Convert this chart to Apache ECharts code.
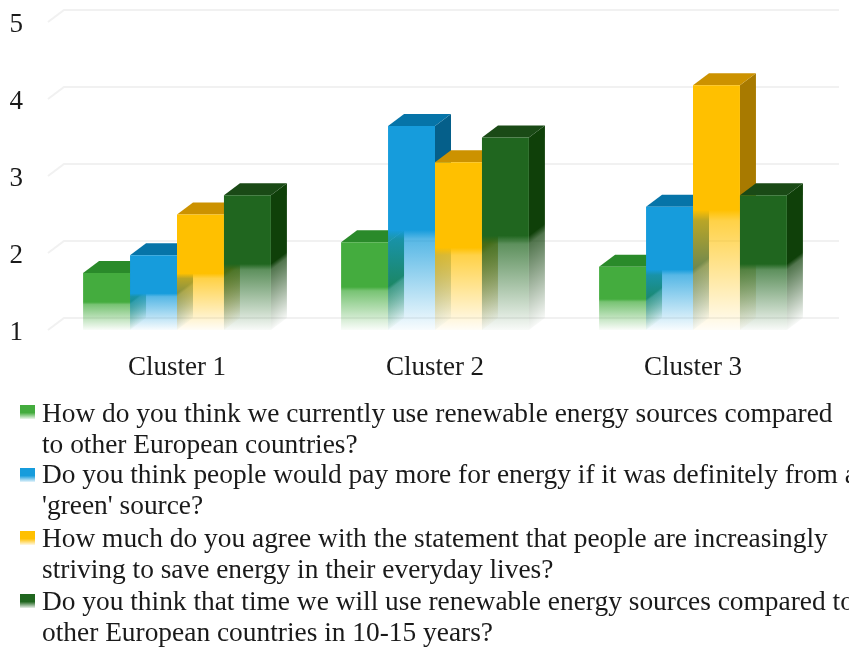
<!DOCTYPE html>
<html>
<head>
<meta charset="utf-8">
<title>Clusters</title>
<style>
  html, body { margin: 0; padding: 0; background: #fff; }
  #chart { width: 849px; height: 650px; }
</style>
</head>
<body>
<div id="chart"></div>
<script src="https://cdn.jsdelivr.net/npm/echarts@6/dist/echarts.min.js"></script>
<script>
const categories = ['Cluster 1', 'Cluster 2', 'Cluster 3']
const tickValues = [1, 2, 3, 4, 5]

const useNow = [1.74, 2.14, 1.82]
const payMore = [1.97, 3.65, 2.6]
const saveEnergy = [2.5, 3.18, 4.18]
const useFuture = [2.75, 3.5, 2.75]

const legendNames = [
  'How do you think we currently use renewable energy sources compared\nto other European countries?',
  "Do you think people would pay more for energy if it was definitely from a\n'green' source?",
  'How much do you agree with the statement that people are increasingly\nstriving to save energy in their everyday lives?',
  'Do you think that time we will use renewable energy sources compared to\nother European countries in 10-15 years?',
]

const FONT = '"Liberation Serif", serif'
const DEPTH_X = 16
const DEPTH_Y = 12
const BAR_RATIO = 0.182
const FADE = 0.49

const palette = [
  { front: '68,172,62', top: '#2a8a2a', side: '31,122,32' },
  { front: '22,156,220', top: '#0674a8', side: '5,95,138' },
  { front: '255,192,0', top: '#cc9200', side: '168,122,0' },
  { front: '32,102,31', top: '#1a4a16', side: '15,64,9' },
]

// solid, a short soft step, then a long fade to almost nothing
function fadeStops(rgb) {
  return [
    { offset: 0, color: `rgba(${rgb},1)` },
    { offset: 0.09, color: `rgba(${rgb},0.72)` },
    { offset: 1, color: `rgba(${rgb},0.03)` },
  ]
}

function barRenderer(index) {
  const colors = palette[index]
  return function (params, api) {
    const band = api.size([1, 0])[0]
    const w = band * BAR_RATIO
    const top = api.coord([api.value(0), api.value(1)])
    const base = api.coord([api.value(0), 1])
    const xl = top[0] + (index - 2) * w
    const xr = xl + w
    const yt = top[1]
    const yb = base[1]
    const h = yb - yt
    const ys = yb - h * FADE
    const dy = yb - ys

    return {
      type: 'group',
      children: [
        {
          type: 'polygon',
          shape: { points: [[xr, yt], [xr + DEPTH_X, yt - DEPTH_Y], [xr + DEPTH_X, yb - DEPTH_Y], [xr, yb]] },
          style: {
            fill: new echarts.graphic.LinearGradient(
              xr, ys, xr + 0.48 * dy, ys + 0.64 * dy, fadeStops(colors.side), true
            ),
          },
        },
        {
          type: 'polygon',
          shape: { points: [[xl, yt], [xl + DEPTH_X, yt - DEPTH_Y], [xr + DEPTH_X, yt - DEPTH_Y], [xr, yt]] },
          style: { fill: colors.top },
        },
        {
          type: 'rect',
          shape: { x: xl, y: yt, width: w, height: h },
          style: {
            fill: new echarts.graphic.LinearGradient(0, ys, 0, yb, fadeStops(colors.front), true),
          },
        },
      ],
    }
  }
}

function gridRenderer(params, api) {
  const rect = params.coordSys
  const y = api.coord([0, api.value(1)])[1]
  return {
    type: 'polyline',
    shape: {
      points: [
        [rect.x, y],
        [rect.x + DEPTH_X, y - DEPTH_Y],
        [rect.x + rect.width + DEPTH_X + 1, y - DEPTH_Y],
      ],
    },
    style: { fill: 'none', stroke: '#f1f1f1', lineWidth: 2 },
  }
}

function barSeries(name, values, index) {
  return {
    name,
    type: 'custom',
    renderItem: barRenderer(index),
    encode: { x: 0, y: 1 },
    data: values.map((v, i) => [i, v]),
    silent: true,
    z: 3,
  }
}

const swatchTops = [405, 468, 531, 594]
const textTops = [399, 460, 524, 587]

const legendGraphics = []
legendNames.forEach((name, i) => {
  legendGraphics.push({
    type: 'rect',
    left: 20,
    top: swatchTops[i],
    shape: { width: 15, height: 14 },
    style: {
      fill: new echarts.graphic.LinearGradient(0, 0, 0, 1, [
        { offset: 0, color: `rgba(${palette[i].front},1)` },
        { offset: 0.55, color: `rgba(${palette[i].front},1)` },
        { offset: 1, color: `rgba(${palette[i].front},0.1)` },
      ]),
    },
  })
  legendGraphics.push({
    type: 'text',
    left: 42,
    top: textTops[i],
    style: { text: name, font: `27.4px ${FONT}`, lineHeight: 31, fill: '#1a1a1a' },
  })
})

const chart = echarts.init(document.getElementById('chart'), null, { renderer: 'canvas' })
chart.setOption({
  animation: false,
  backgroundColor: '#fff',
  grid: { left: 48, right: 27, top: 22, height: 308 },
  xAxis: {
    type: 'category',
    data: categories,
    axisLine: { show: false },
    axisTick: { show: false },
    splitLine: { show: false },
    axisLabel: { color: '#1a1a1a', fontFamily: FONT, fontSize: 27, margin: 24 },
  },
  yAxis: {
    type: 'value',
    min: 1,
    max: 5,
    interval: 1,
    axisLine: { show: false },
    axisTick: { show: false },
    splitLine: { show: false },
    axisLabel: {
      color: '#1a1a1a',
      fontFamily: FONT,
      fontSize: 27,
      margin: 25,
      verticalAlign: 'top',
      lineHeight: 6,
    },
  },
  graphic: legendGraphics,
  series: [
    {
      type: 'custom',
      renderItem: gridRenderer,
      encode: { x: 0, y: 1 },
      data: tickValues.map((v) => [0, v]),
      silent: true,
      z: 1,
    },
    barSeries('useNow', useNow, 0),
    barSeries('payMore', payMore, 1),
    barSeries('saveEnergy', saveEnergy, 2),
    barSeries('useFuture', useFuture, 3),
  ],
})
</script>
</body>
</html>
